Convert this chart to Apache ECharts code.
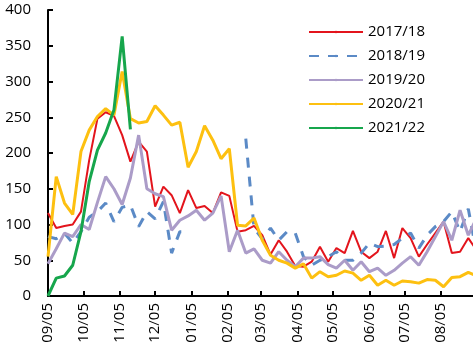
<!DOCTYPE html>
<html>
<head>
<meta charset="utf-8">
<script src="https://cdn.jsdelivr.net/npm/echarts@6/dist/echarts.min.js"></script>
<style>
  html, body { margin: 0; padding: 0; background: #fff; }
  #main { width: 473px; height: 354px; }
</style>
</head>
<body>
<div id="main"></div>
<script>
// weekly points, day 0 = 09/05
var monthDays = [0, 30, 61, 91, 122, 153, 181, 212, 242, 273, 303, 334];
var monthLabels = ['09/05', '10/05', '11/05', '12/05', '01/05', '02/05', '03/05', '04/05', '05/05', '06/05', '07/05', '08/05'];

var s1718 = [116, 95, 98, 100, 118, 190, 248, 257, 252, 225, 188, 216, 202, 125, 153, 141, 116, 148, 123, 126, 116, 145, 140, 90, 92, 98, 85, 58, 78, 62, 42, 41, 48, 69, 48, 67, 60, 91, 62, 53, 62, 91, 53, 95, 81, 55, 72, 88, 104, 60, 62, 81, 64];
var s1819 = [83, 80, 88, 74, 90, 110, 118, 130, 104, 124, 127, 97, 118, 108, 132, 60, 90, 90, null, null, null, null, null, null, 220, 95, 80, 95, 78, 90, 88, 55, 43, 50, 55, 62, 50, 50, 60, 74, 69, 70, 72, 81, 88, 67, 85, 97, 104, 118, 90, 122, 60];
var s1920 = [45, 66, 88, 83, 100, 93, 131, 167, 150, 128, 165, 225, 150, 143, 139, 92, 106, 112, 120, 106, 116, 140, 62, 92, 60, 66, 50, 46, 62, 50, 41, 53, 53, 55, 44, 39, 50, 36, 48, 34, 39, 29, 36, 46, 55, 43, 62, 83, 104, 78, 120, 85, 109];
var s2021 = [55, 167, 130, 114, 202, 232, 251, 262, 253, 314, 248, 242, 244, 266, 253, 239, 243, 180, 202, 238, 218, 192, 206, 99, 98, 109, 78, 57, 50, 46, 39, 45, 25, 34, 27, 29, 35, 32, 22, 29, 15, 22, 15, 21, 20, 18, 23, 22, 13, 26, 27, 33, 28];
var s2122 = [0, 25, 28, 43, 90, 160, 204, 228, 260, 363, 233];

var font = 'Open Sans';

function weekly(vals) {
	var out = [];
	for (var i = 0; i < vals.length; i++) {
		out.push([i * 7, vals[i]]);
	}
	return out;
}

function line(name, vals, color, width, type) {
	return {
		name: name,
		type: 'line',
		symbol: 'none',
		connectNulls: false,
		data: weekly(vals),
		lineStyle: { color: color, width: width, type: type || 'solid' },
		itemStyle: { color: color }
	};
}

var chart = echarts.init(document.getElementById('main'));

var option = {
	animation: false,
	backgroundColor: '#fff',
	grid: { left: 48, right: 0, top: 10, bottom: 58 },
	legend: {
		orient: 'vertical',
		left: 303,
		top: 18,
		itemWidth: 54,
		itemHeight: 3,
		itemGap: 6,
		textStyle: { fontFamily: font, fontSize: 15, color: '#000', lineHeight: 18 },
		data: ['2017/18', '2018/19', '2019/20', '2020/21', '2021/22']
	},
	xAxis: {
		type: 'value',
		min: 0,
		max: 361,
		splitLine: { show: false },
		axisLine: { lineStyle: { color: '#000', width: 2 } },
		axisTick: { inside: true, length: 5, customValues: monthDays, lineStyle: { color: '#000', width: 2 } },
		axisLabel: {
			customValues: monthDays,
			rotate: 90,
			margin: 7,
			fontFamily: font,
			fontSize: 15,
			color: '#000',
			formatter: function (v) {
				return monthLabels[monthDays.indexOf(v)];
			}
		}
	},
	yAxis: {
		type: 'value',
		min: 0,
		max: 400,
		interval: 50,
		splitLine: { show: false },
		axisLine: { show: true, lineStyle: { color: '#000', width: 2 } },
		axisTick: { show: true, inside: true, length: 5, lineStyle: { color: '#000', width: 2 } },
		axisLabel: { margin: 17, fontFamily: font, fontSize: 15, color: '#000' }
	},
	series: [
		line('2017/18', s1718, '#e3141c', 2),
		line('2018/19', s1819, '#5b8ac6', 3, [10, 9]),
		line('2019/20', s1920, '#ab9cc8', 3),
		line('2020/21', s2021, '#fdc010', 3),
		line('2021/22', s2122, '#16a64c', 3)
	]
};

chart.setOption(option);
</script>
</body>
</html>
